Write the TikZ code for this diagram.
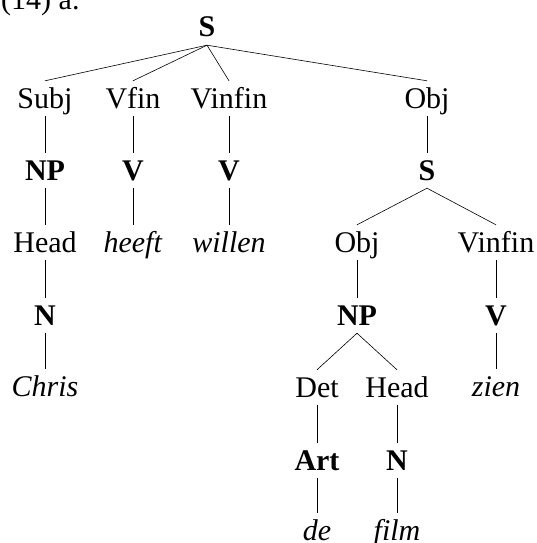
\documentclass[tikz,border=0pt]{standalone}
\usepackage{fontspec}
\setmainfont{Liberation Serif}

\tikzset{
  cat/.style={anchor=base, inner xsep=2pt, inner ysep=6pt, text height=21pt, text depth=2pt,
              font=\fontsize{30}{36}\selectfont},
  branch/.style={line width=0.6pt}
}

\begin{document}
\begin{tikzpicture}[x=1pt, y=-1pt]
    \useasboundingbox (0,0) rectangle (537,543);

    \node[anchor=base west, inner sep=0pt, font=\fontsize{30}{36}\selectfont] (ex) at (1, 10) {(14) a.};

    % top level
    \node[cat] (s) at (207, 37) {\textbf{S}};
    \node[cat] (subj) at (45, 108) {Subj};
    \node[cat] (vfin) at (133, 108) {Vfin};
    \node[cat] (vinfin) at (229, 108) {Vinfin};
    \node[cat] (obj) at (427, 108) {Obj};

    % subject
    \node[cat] (np) at (45, 180) {\textbf{NP}};
    \node[cat] (head) at (45, 252) {Head};
    \node[cat] (n) at (45, 325) {\textbf{N}};
    \node[cat] (chris) at (45, 396) {\textit{Chris}};

    % verbs
    \node[cat] (v1) at (133, 180) {\textbf{V}};
    \node[cat] (heeft) at (133, 252) {\textit{heeft}};
    \node[cat] (v2) at (229, 180) {\textbf{V}};
    \node[cat] (willen) at (229, 252) {\textit{willen}};

    % embedded clause
    \node[cat] (s2) at (427, 180) {\textbf{S}};
    \node[cat] (obj2) at (357, 252) {Obj};
    \node[cat] (vinfin2) at (496, 252) {Vinfin};
    \node[cat] (np2) at (357, 325) {\textbf{NP}};
    \node[cat] (v3) at (496, 325) {\textbf{V}};
    \node[cat] (zien) at (496, 396) {\textit{zien}};
    \node[cat] (det) at (317, 397) {Det};
    \node[cat] (head2) at (397, 397) {Head};
    \node[cat] (art) at (317, 470) {\textbf{Art}};
    \node[cat] (n2) at (397, 470) {\textbf{N}};
    \node[cat] (de) at (317, 540) {\textit{de}};
    \node[cat] (film) at (397, 540) {\textit{film}};

    % branches
    \foreach \p/\c in {s/subj, s/vfin, s/vinfin, s/obj,
                       subj/np, np/head, head/n, n/chris,
                       vfin/v1, v1/heeft, vinfin/v2, v2/willen,
                       obj/s2, s2/obj2, s2/vinfin2, obj2/np2, vinfin2/v3, v3/zien,
                       np2/det, np2/head2, det/art, head2/n2, art/de, n2/film}
        \draw[branch] (\p.south) -- (\c.north);
\end{tikzpicture}
\end{document}
